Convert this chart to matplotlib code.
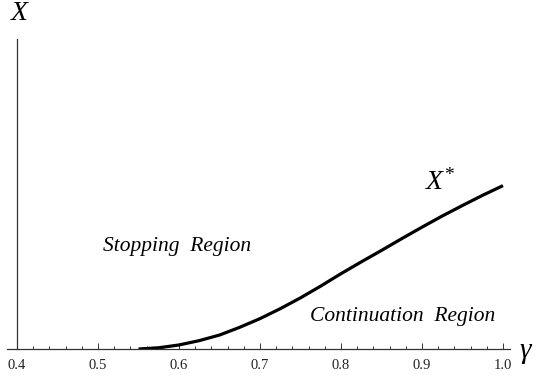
import matplotlib
matplotlib.use("Agg")
import matplotlib.pyplot as plt
from matplotlib.ticker import MultipleLocator

plt.rcParams['font.family'] = ['Liberation Serif', 'DejaVu Serif']
plt.rcParams['mathtext.fontset'] = 'custom'
plt.rcParams['mathtext.it'] = 'Liberation Serif:italic'
plt.rcParams['mathtext.rm'] = 'Liberation Serif'

# boundary curve X*(gamma) (arbitrary units)
gamma = [0.55, 0.575, 0.60, 0.625, 0.65, 0.675, 0.70, 0.725, 0.75, 0.775,
         0.80, 0.825, 0.85, 0.875, 0.90, 0.925, 0.95, 0.975, 1.00]
xstar = [0.0, 0.004, 0.013, 0.027, 0.045, 0.070, 0.098, 0.130, 0.165, 0.203,
         0.243, 0.281, 0.318, 0.356, 0.393, 0.429, 0.463, 0.496, 0.527]
xticks = [0.4, 0.5, 0.6, 0.7, 0.8, 0.9, 1.0]

W, H = 541, 378
fig = plt.figure(figsize=(W / 100, H / 100), dpi=100)
ax = fig.add_axes([7 / W, (H - 349) / H, (510 - 7) / W, (349 - 39) / H])

ax.plot(gamma, xstar, color='black', lw=2.3, solid_capstyle='butt',
        solid_joinstyle='round')

ax.set_xlim(0.4 - 10 / 810, 0.4 + 493 / 810)
ax.set_ylim(0, 1)

for s in ['top', 'right']:
    ax.spines[s].set_visible(False)
ax.spines['left'].set_position(('data', 0.4))
ax.spines['bottom'].set_color('#333333')
ax.spines['left'].set_color('#333333')
ax.spines['bottom'].set_linewidth(0.9)
ax.spines['left'].set_linewidth(0.9)

ax.set_xticks(xticks)
ax.set_xticklabels(['%.1f' % t for t in xticks])
ax.xaxis.set_minor_locator(MultipleLocator(0.02))
ax.tick_params(axis='x', which='major', direction='in', length=4.0, width=0.7,
               labelsize=10.5, pad=7.5, color='#333333', labelcolor='#222222')
ax.tick_params(axis='x', which='minor', direction='in', length=2.2, width=0.7,
               color='#333333')
ax.set_yticks([])

fig.text(19 / W, 1 - 14 / H, 'X', fontsize=20, style='italic',
         ha='center', va='center')
fig.text(525 / W, 1 - 351 / H, 'γ', fontsize=21, style='italic',
         ha='center', va='center')
fig.text(440 / W, 1 - 182 / H, r'$X^{*}$', fontsize=20,
         ha='center', va='center')
fig.text(177 / W, 1 - 246 / H, 'Stopping  Region', fontsize=15.5, style='italic',
         ha='center', va='center')
fig.text(403 / W, 1 - 316 / H, 'Continuation  Region', fontsize=15.5, style='italic',
         ha='center', va='center')

fig.savefig('out.png', dpi=100)
